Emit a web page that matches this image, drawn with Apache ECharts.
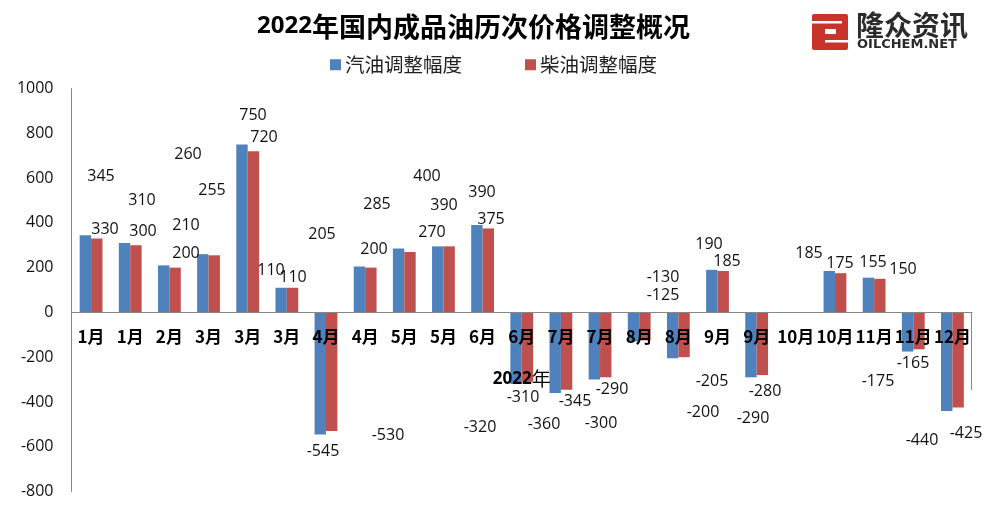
<!DOCTYPE html>
<html>
<head>
<meta charset="utf-8">
<style>html,body{margin:0;padding:0;background:#fff}#chartDiv{width:989px;height:513px}</style>
<script src="https://cdn.jsdelivr.net/npm/echarts@6/dist/echarts.min.js"></script>
</head>
<body>
<div id="chartDiv"></div>
<script>
var categories = ["1月","1月","2月","3月","3月","3月","4月","4月","5月","5月","6月","6月","7月","7月","8月","8月","9月","9月","10月","10月","11月","11月","12月"];
var gasValues = [345,310,210,260,750,110,-545,205,285,295,390,-320,-360,-300,-130,-205,190,-290,null,185,155,-175,-440];
var dieselValues = [330,300,200,255,720,110,-530,200,270,295,375,-310,-345,-290,-125,-200,185,-280,null,175,150,-165,-425];
// printed labels, not always what the bar shows (second 5月)
var gasLabels = [345,310,210,260,750,110,-545,205,285,400,390,-320,-360,-300,-130,-205,190,-290,"",185,155,-175,-440];
var dieselLabels = [330,300,200,255,720,110,-530,200,270,390,375,-310,-345,-290,-125,-200,185,-280,"",175,150,-165,-425];
var yTicks = [-800,-600,-400,-200,0,200,400,600,800,1000];

// labels sit away from their bars in the original, so they are placed by hand
var gasLabelPos = [[101,176],[142,200],[186,225],[188,154],[253,115],[271,270],[323,451],[322,234],[377,204],[427,176],[482,192],[480,427],[544,424],[601,423],[663,277],[712,381],[709,244],[753,418],[0,0],[809,253],[873,262],[878,381],[922,440]];
var dieselLabelPos = [[105,229],[143,231],[186,253],[212,190],[264,137],[293,277],[388,435],[374,249],[432,232],[444,205],[491,219],[523,397],[575,401],[612,389],[663,295],[703,412],[727,261],[765,391],[0,0],[840,263],[903,269],[913,363],[966,433]];

var latin = "Open Sans";
var cjk = "Noto Sans CJK SC";

function barSeries(name, values, texts, pos, color) {
  return {
    name: name,
    type: "bar",
    data: values,
    barWidth: 11.4,
    barGap: 0,
    itemStyle: { color: color },
    label: {
      show: true,
      color: "#111",
      fontFamily: latin,
      fontSize: 16,
      formatter: function (p) { return String(texts[p.dataIndex]); }
    },
    labelLayout: function (p) {
      return { x: pos[p.dataIndex][0], y: pos[p.dataIndex][1], align: "center", verticalAlign: "middle" };
    }
  };
}

var myChart = echarts.init(document.getElementById("chartDiv"));

var option = {
  animation: false,
  backgroundColor: "#fff",
  title: {
    text: "{a|2022}{b|年国内成品油历次价格调整概况}",
    left: 252,
    top: 8,
    textStyle: {
      rich: {
        a: { fontFamily: latin, fontWeight: "bold", fontSize: 24, color: "#000" },
        b: { fontFamily: cjk, fontWeight: "bold", fontSize: 27, color: "#000" }
      }
    }
  },
  legend: {
    left: 325,
    top: 50,
    itemWidth: 11,
    itemHeight: 11,
    itemGap: 63,
    icon: "rect",
    textStyle: { fontFamily: cjk, fontSize: 19.5, color: "#222", padding: [0, 0, 0, -1] }
  },
  grid: { left: 71.5, top: 88.5, width: 900.5, height: 403, outerBoundsMode: "none" },
  xAxis: {
    type: "category",
    data: categories,
    z: 3,
    name: "{a|2022}{b|年}",
    nameLocation: "middle",
    nameGap: -122,
    nameMoveOverlap: false,
    nameTextStyle: {
      rich: {
        a: { fontFamily: latin, fontWeight: "bold", fontSize: 17, color: "#000" },
        b: { fontFamily: cjk, fontSize: 19, color: "#000" }
      }
    },
    axisTick: { show: false },
    axisLine: { onZero: true, lineStyle: { color: "#868686", width: 1 } },
    // v6 keeps these at the grid bottom even when the line is on zero, hence the negative margin
    axisLabel: { interval: 0, margin: -163, fontFamily: cjk, fontWeight: "bold", fontSize: 17, color: "#000", hideOverlap: false }
  },
  yAxis: {
    type: "value",
    min: yTicks[0],
    max: yTicks[yTicks.length - 1],
    interval: 200,
    axisTick: { show: false },
    axisLine: { show: true, lineStyle: { color: "#868686", width: 1 } },
    splitLine: { show: false },
    axisLabel: { margin: 18, fontFamily: latin, fontSize: 16, color: "#111", formatter: function (v) { return String(v); } }
  },
  series: [
    barSeries("汽油调整幅度", gasValues, gasLabels, gasLabelPos, "#4f81bd"),
    barSeries("柴油调整幅度", dieselValues, dieselLabels, dieselLabelPos, "#c0504d")
  ],
  graphic: [
    // stray line at the right end of the plot
    { type: "line", z: 1, shape: { x1: 971.5, y1: 313, x2: 971.5, y2: 390 }, style: { stroke: "#868686", lineWidth: 1 } },
    // logo
    { type: "rect", shape: { x: 812, y: 14, width: 36, height: 36, r: 2 }, style: { fill: "#c9342a" } },
    { type: "rect", shape: { x: 812, y: 21, width: 30, height: 2.5 }, style: { fill: "#fff" } },
    { type: "rect", shape: { x: 825, y: 40, width: 23, height: 2.5 }, style: { fill: "#fff" } },
    { type: "rect", shape: { x: 825, y: 29, width: 11, height: 5 }, style: { fill: "#fff" } },
    { type: "text", style: { x: 856, y: 25, text: "隆众资讯", verticalAlign: "middle", fontFamily: cjk, fontWeight: "bold", fontSize: 28, fill: "#2b2b2b" } },
    { type: "text", style: { x: 857, y: 45, text: "OILCHEM.NET", verticalAlign: "middle", fontFamily: "DejaVu Sans", fontWeight: "bold", fontSize: 13, fill: "#2b2b2b" } }
  ]
};

myChart.setOption(option);
</script>
</body>
</html>
